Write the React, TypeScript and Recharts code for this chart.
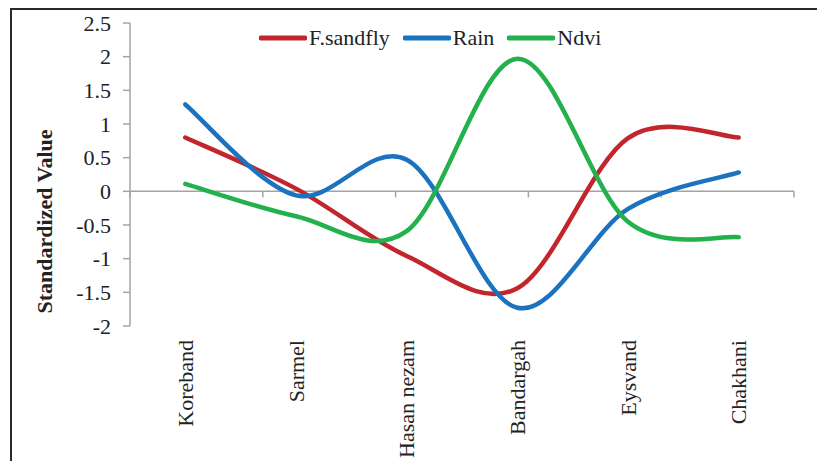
import React from 'react';
import { LineChart, Line, XAxis, YAxis, ReferenceLine, Legend } from 'recharts';

const categories = ['Koreband', 'Sarmel', 'Hasan nezam', 'Bandargah', 'Eysvand', 'Chakhani'];
const sandfly = [0.8, 0.04, -0.96, -1.44, 0.79, 0.8];
const rain = [1.29, -0.06, 0.47, -1.73, -0.26, 0.28];
const ndvi = [0.11, -0.37, -0.59, 1.97, -0.45, -0.68];
const seriesNames = ['F.sandfly', 'Rain', 'Ndvi'];
const yTicks = [-2, -1.5, -1, -0.5, 0, 0.5, 1, 1.5, 2, 2.5];

const data = categories.map((name, i) => ({
  name,
  sandfly: sandfly[i],
  rain: rain[i],
  ndvi: ndvi[i],
}));

const FONT = '"Liberation Serif", "Times New Roman", serif';
const AXIS = '#a3a3a3';
const TEXT = '#222';

// Excel-style smoothed line (Catmull-Rom through every point)
function excelCurve(context: any) {
  let pts: number[][] = [];
  return {
    areaStart() {},
    areaEnd() {},
    lineStart() {
      pts = [];
    },
    point(x: number, y: number) {
      pts.push([+x, +y]);
    },
    lineEnd() {
      const n = pts.length;
      if (!n) return;
      context.moveTo(pts[0][0], pts[0][1]);
      for (let i = 0; i < n - 1; i++) {
        const p0 = pts[Math.max(i - 1, 0)];
        const p1 = pts[i];
        const p2 = pts[i + 1];
        const p3 = pts[Math.min(i + 2, n - 1)];
        context.bezierCurveTo(
          p1[0] + (p2[0] - p0[0]) / 6,
          p1[1] + (p2[1] - p0[1]) / 6,
          p2[0] - (p3[0] - p1[0]) / 6,
          p2[1] - (p3[1] - p1[1]) / 6,
          p2[0],
          p2[1]
        );
      }
    },
  };
}

const CategoryTick = (props: any) => {
  const { x, y, payload } = props;
  return (
    <text
      x={x}
      y={y}
      transform={`rotate(-90, ${x}, ${y})`}
      textAnchor="end"
      dy="0.35em"
      fontSize={22}
      fontFamily={FONT}
      fill={TEXT}
    >
      {payload.value}
    </text>
  );
};

const renderYLabel = (props: any) => {
  const vb = props.viewBox || {};
  const cx = (vb.x || 0) + 44;
  const cy = (vb.y || 0) + (vb.height || 0) / 2 + 47;
  return (
    <text
      x={cx}
      y={cy}
      transform={`rotate(-90, ${cx}, ${cy})`}
      textAnchor="middle"
      dy="0.35em"
      fontSize={22}
      fontWeight="bold"
      fontFamily={FONT}
      fill={TEXT}
    >
      Standardized Value
    </text>
  );
};

const renderLegend = (props: any) => {
  const payload = [...(props.payload || [])].sort(
    (a: any, b: any) => seriesNames.indexOf(a.value) - seriesNames.indexOf(b.value)
  );
  return (
    <div style={{ display: 'flex', alignItems: 'center', fontFamily: FONT, fontSize: 22, color: TEXT }}>
      {payload.map((p: any) => (
        <div key={p.value} style={{ display: 'flex', alignItems: 'center', marginRight: 13 }}>
          <svg width={48} height={10} style={{ marginRight: 2 }}>
            <line x1={2} y1={5} x2={46} y2={5} stroke={p.color} strokeWidth={5} strokeLinecap="round" />
          </svg>
          <span>{p.value}</span>
        </div>
      ))}
    </div>
  );
};

const boundaries = [0, 1, 2, 3, 4, 5, 6];

export default function App() {
  return (
    <div
      style={{
        position: 'fixed',
        left: 0,
        top: 0,
        width: 817,
        height: 461,
        overflow: 'hidden',
        background: '#fff',
      }}
    >
      <div
        style={{
          position: 'absolute',
          left: 10,
          top: 8,
          width: 900,
          height: 600,
          border: '2.5px solid #2a2a2a',
        }}
      />
      <div style={{ position: 'absolute', left: 0, top: 0 }}>
        <LineChart width={817} height={461} data={data} margin={{ top: 23, right: 23, bottom: 0, left: 0 }}>
          <XAxis
            dataKey="name"
            height={135}
            axisLine={false}
            tickLine={false}
            tickSize={0}
            tickMargin={14}
            interval={0}
            padding={{ left: 55.3, right: 55.3 }}
            tick={<CategoryTick />}
          />
          <XAxis xAxisId="grid" type="number" domain={[0, 6]} hide />
          <YAxis
            width={130}
            domain={[-2, 2.5]}
            ticks={yTicks}
            interval={0}
            axisLine={{ stroke: AXIS, strokeWidth: 1.5 }}
            tickLine={{ stroke: AXIS, strokeWidth: 1.5 }}
            tickSize={7}
            tickMargin={12}
            tick={{ fontSize: 22, fontFamily: FONT, fill: TEXT }}
            label={renderYLabel}
          />
          <ReferenceLine xAxisId="grid" y={0} stroke={AXIS} strokeWidth={1.5} />
          {boundaries.map((b) => (
            <ReferenceLine
              key={b}
              xAxisId="grid"
              segment={[
                { x: b, y: 0 },
                { x: b, y: -0.09 },
              ]}
              stroke={AXIS}
              strokeWidth={1.5}
            />
          ))}
          <Legend
            layout="horizontal"
            verticalAlign="middle"
            align="center"
            itemSorter={null as any}
            content={renderLegend}
            wrapperStyle={{ position: 'absolute', left: 259, top: 25, width: 'auto', height: 'auto' }}
          />
          <Line
            dataKey="sandfly"
            name="F.sandfly"
            type={excelCurve as any}
            stroke="#c3252c"
            strokeWidth={4.5}
            strokeLinecap="round"
            dot={false}
            activeDot={false}
            isAnimationActive={false}
          />
          <Line
            dataKey="rain"
            name="Rain"
            type={excelCurve as any}
            stroke="#1b72be"
            strokeWidth={4.5}
            strokeLinecap="round"
            dot={false}
            activeDot={false}
            isAnimationActive={false}
          />
          <Line
            dataKey="ndvi"
            name="Ndvi"
            type={excelCurve as any}
            stroke="#22b14c"
            strokeWidth={4.5}
            strokeLinecap="round"
            dot={false}
            activeDot={false}
            isAnimationActive={false}
          />
        </LineChart>
      </div>
    </div>
  );
}
